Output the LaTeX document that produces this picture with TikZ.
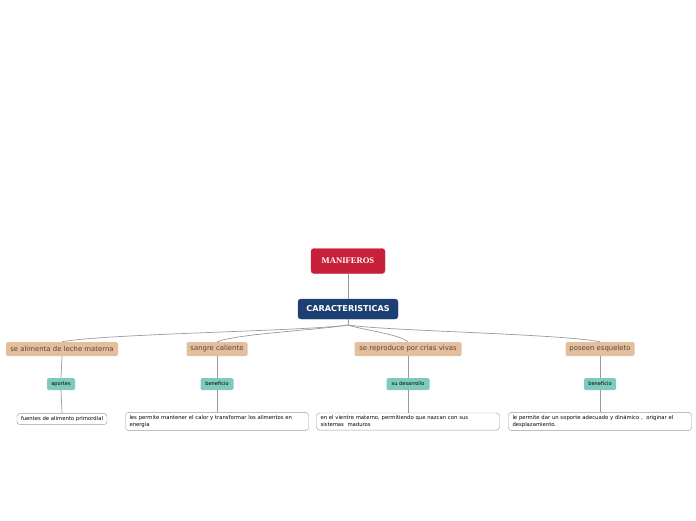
\documentclass[tikz,border=0pt]{standalone}
\usepackage{fontspec}
\setmainfont{DejaVu Sans}
\newfontfamily\titlefont{Liberation Serif}
\usetikzlibrary{positioning, calc}

\definecolor{rootred}{HTML}{C8203A}
\definecolor{mainblue}{HTML}{1D3F72}
\definecolor{topictan}{HTML}{E3BF9E}
\definecolor{topictext}{HTML}{5B4636}
\definecolor{tagteal}{HTML}{7ECBBE}
\definecolor{linegray}{HTML}{9A9A9A}

\begin{document}
\begin{tikzpicture}[x=1pt, y=-1pt,
    root/.style={fill=rootred, draw=rootred, rounded corners=3pt, minimum width=74pt, minimum height=25pt, text=white, font=\titlefont\bfseries\fontsize{8.6}{9}\selectfont},
    main/.style={fill=mainblue, draw=mainblue, rounded corners=3pt, minimum width=100pt, minimum height=20pt, text=white, font=\bfseries\fontsize{8.1}{9}\selectfont},
    topic/.style={fill=topictan, rounded corners=1.5pt, minimum height=14pt, inner xsep=3pt, inner ysep=0pt, text=topictext, font=\fontsize{6.9}{7}\selectfont},
    tag/.style={fill=tagteal, rounded corners=1.5pt, minimum height=12pt, inner xsep=3pt, inner ysep=0pt, font=\fontsize{5.1}{6}\selectfont},
    note/.style={draw=linegray, fill=white, rounded corners=3pt, inner xsep=4pt, inner ysep=3pt, align=left, font=\fontsize{5.3}{7}\selectfont},
    link/.style={draw=linegray, line width=0.7pt}]
\useasboundingbox (0,0) rectangle (696,520);

\node[root] (root) at (348,261) {MANIFEROS};
\node[main] (car) at (348,309) {CARACTERISTICAS};
\draw[link] (root) -- (car);
\coordinate (hub) at (348,325);
\draw[link] (car.south) -- (hub);

% topics
\node[topic, minimum width=112pt] (leche) at (62,349) {se alimenta de leche materna};
\node[topic, minimum width=61pt] (sangre) at (217,349) {sangre caliente};
\node[topic, minimum width=107pt] (crias) at (408,349) {se reproduce por crias vivas};
\node[topic, minimum width=69pt] (esq) at (600,349) {poseen esqueleto};

\draw[link] (hub) .. controls +(-40,6) and +(40,-8) .. (leche.north);
\draw[link] (hub) .. controls +(-30,5) and +(20,-8) .. (sangre.north);
\draw[link] (hub) .. controls +(15,5) and +(-10,-8) .. (crias.north);
\draw[link] (hub) .. controls +(40,6) and +(-40,-8) .. (esq.north);

% tags
\node[tag, minimum width=28pt] (aportes) at (61,384) {aportes};
\node[tag, minimum width=33pt] (benef1) at (217,384) {beneficio};
\node[tag, minimum width=43pt] (desarr) at (408,384) {su desarrollo};
\node[tag, minimum width=32pt] (benef2) at (600,384) {beneficio};

% notes
\node[note] (fuentes) at (62,419) {fuentes de alimento primordial};
\node[note, text width=175pt] (calor) at (217,421.5) {les permite mantener el calor y transformar los alimentos en\\energia};
\node[note, text width=175pt] (vientre) at (408,421.5) {en el vientre materno, permitiendo que nazcan con sus\\sistemas\ \ maduros};
\node[note, text width=175pt] (soporte) at (600,421.5) {le permite dar un soporte adecuado y din\'amico ,\ \ originar el\\desplazamiento.};

\foreach \t/\g/\n in {leche/aportes/fuentes, sangre/benef1/calor, crias/desarr/vientre, esq/benef2/soporte} {
    \draw[link] (\t.south) -- (\g.north);
    \draw[link] (\g.south) -- (\n.north);
}
\end{tikzpicture}
\end{document}
